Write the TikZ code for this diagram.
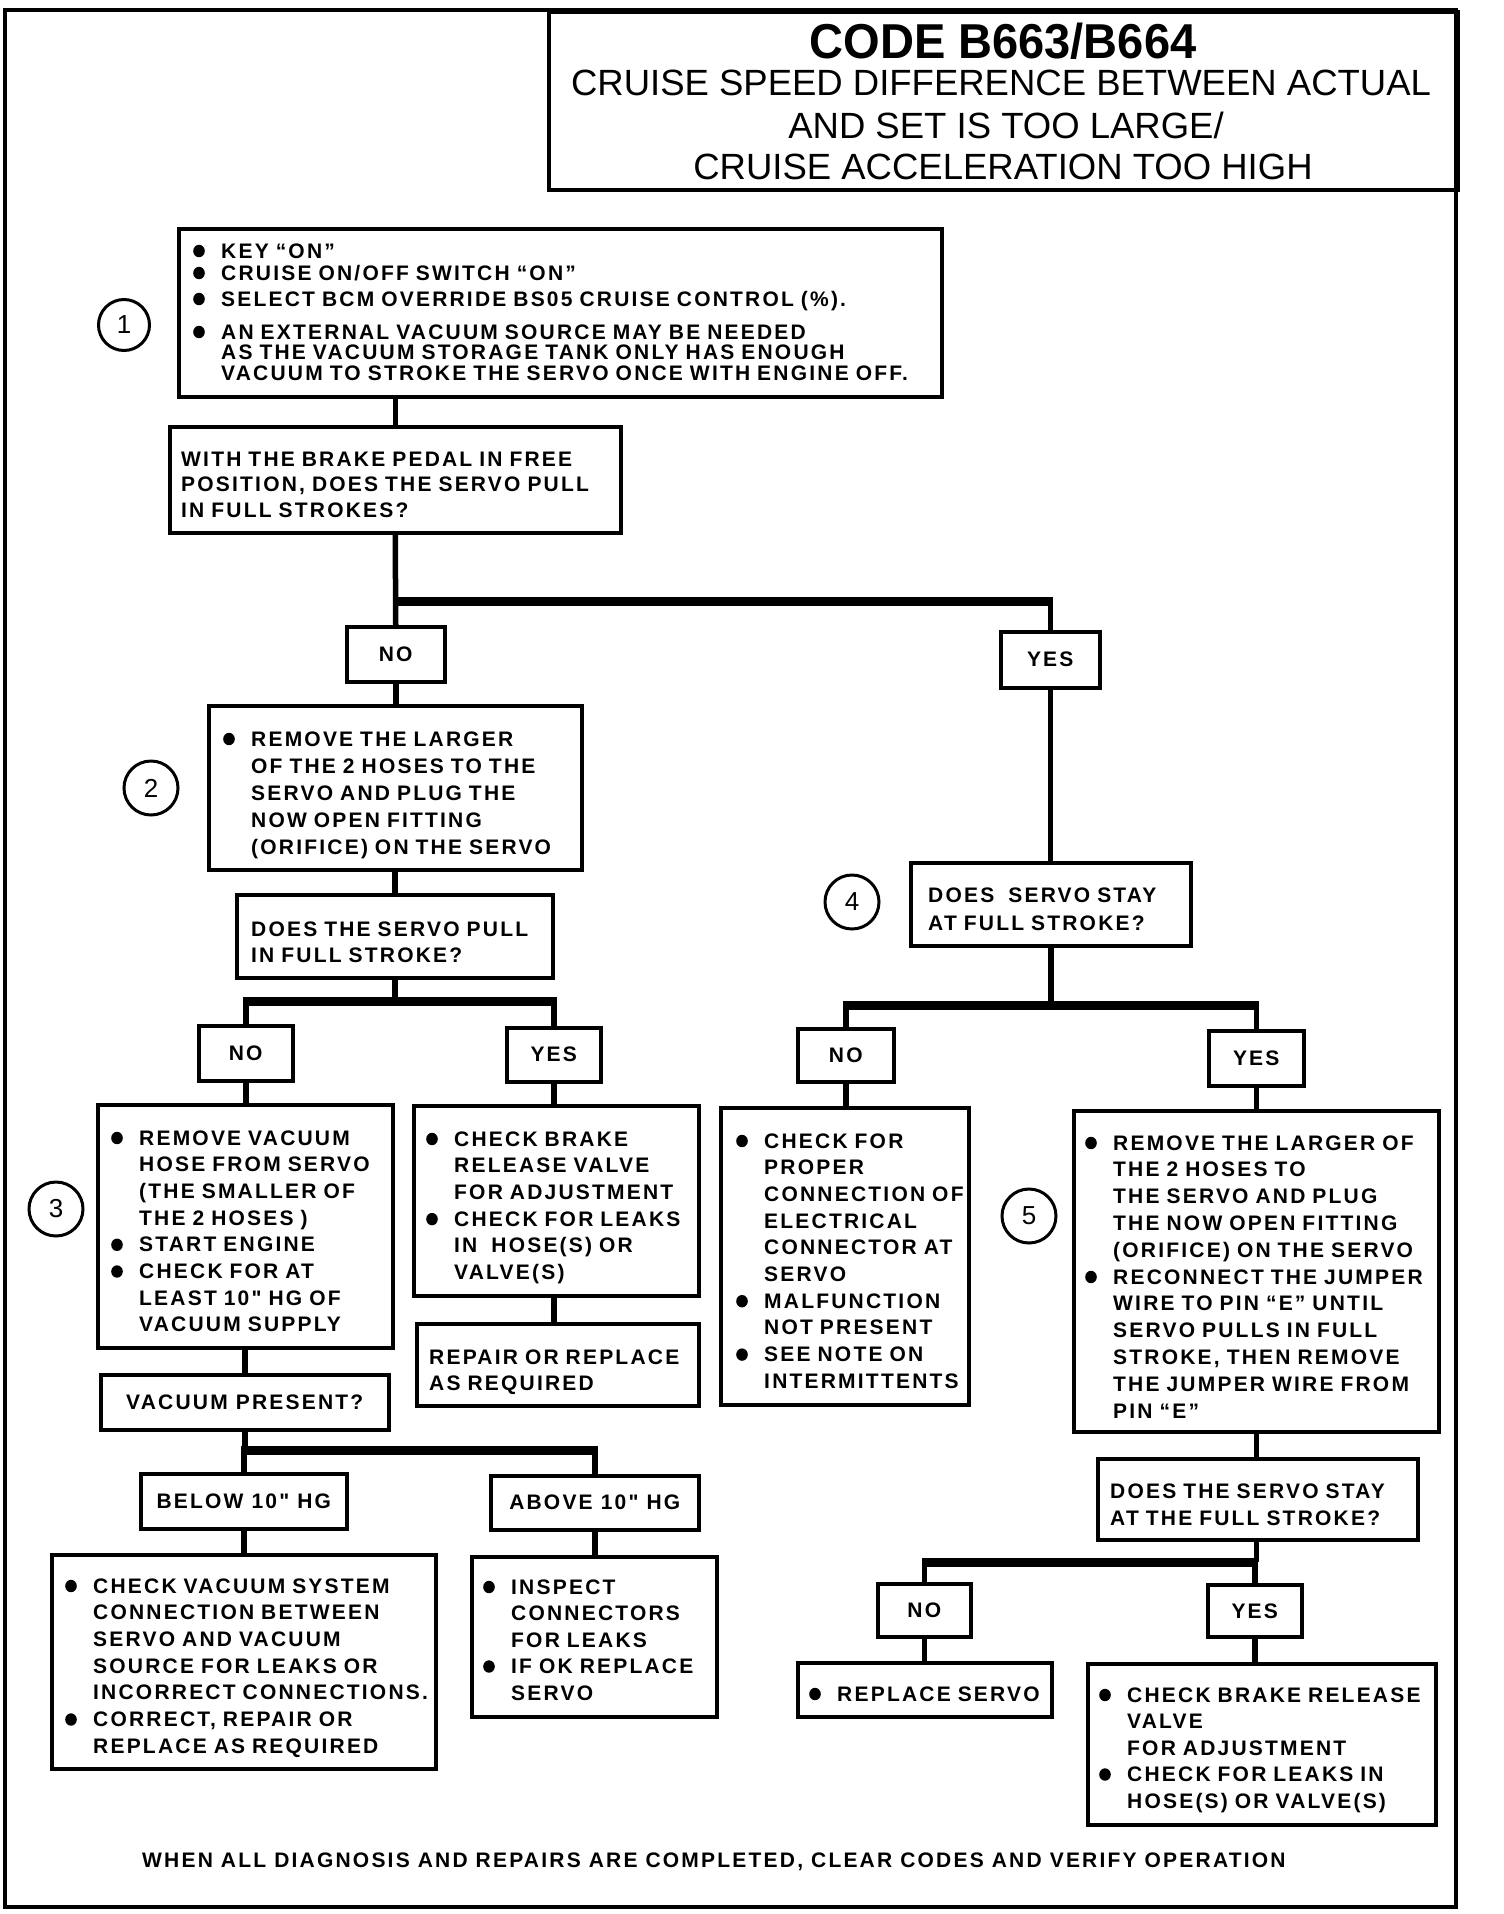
\documentclass[tikz,border=0pt]{standalone}
\usepackage{fontspec}
\setmainfont{Liberation Sans}
\newfontfamily\bodyfont[LetterSpace=10.5]{Liberation Sans}
\newfontfamily\codefont[FakeStretch=0.96]{Liberation Sans}
\newfontfamily\subfont{Liberation Sans}
\newcommand\bul{\makebox[28pt][l]{\tikz[baseline=0pt]\fill (6pt,7pt) ellipse[x radius=5.8pt, y radius=6.2pt];}}
\newcommand\ind{\hspace*{28pt}}
\newcommand\mybox[5]{\node[box, minimum width=#4pt, minimum height=#5pt] (#1) at (#2,#3) {};}
\tikzset{
  box/.style={draw, line width=3.5pt, anchor=north west, inner sep=0pt},
  txt/.style={anchor=base west, inner sep=0pt, text width=760pt, align=left,
    font=\bodyfont\bfseries\fontsize{21}{26.7}\selectfont},
  lbl/.style={inner sep=0pt, font=\bodyfont\bfseries\fontsize{21}{25}\selectfont},
  conn/.style={line width=5.5pt},
  bar/.style={line width=9pt, shorten <=-2.75pt, shorten >=-2.75pt},
  num/.style={draw, circle, line width=3pt, minimum size=54pt, inner sep=0pt,
    font=\subfont\fontsize{26}{26}\selectfont},
}
\begin{document}
\begin{tikzpicture}[x=1pt,y=-1pt]
\useasboundingbox (0,0) rectangle (1504,1914);
% frame
\draw[line width=4pt] (5,10) rectangle (1456,1907);
% title
\mybox{title}{547}{10}{909}{178}
\node[anchor=base, inner sep=0pt, font=\codefont\bfseries\fontsize{49}{49}\selectfont] (tt1) at (1003,58) {CODE B663/B664};
\node[anchor=base, inner sep=0pt, font=\subfont\fontsize{36.5}{36.5}\selectfont] (tt2) at (1001,95) {CRUISE SPEED DIFFERENCE BETWEEN ACTUAL};
\node[anchor=base, inner sep=0pt, font=\subfont\fontsize{36.5}{36.5}\selectfont] (tt3) at (1006,138) {AND SET IS TOO LARGE/};
\node[anchor=base, inner sep=0pt, font=\subfont\fontsize{36.5}{36.5}\selectfont] (tt4) at (1003,179) {CRUISE ACCELERATION TOO HIGH};

% boxes
\mybox{b1}{177}{227}{763}{168}
\mybox{q1}{168}{425}{451}{106}
\mybox{no1}{345}{625}{98}{55}
\mybox{yes1}{999}{630}{99}{56}
\mybox{b2}{207}{704}{373}{164}
\mybox{q2}{235}{893}{316}{83}
\mybox{no2}{197}{1024}{94}{55}
\mybox{yes2}{505}{1026}{94}{54}
\mybox{b3}{96}{1103}{295}{243}
\mybox{b3y}{412}{1104}{285}{190}
\mybox{rep}{415}{1322}{282}{82}
\mybox{vp}{99}{1373}{288}{55}
\mybox{below}{139}{1472}{206}{55}
\mybox{above}{489}{1474}{208}{54}
\mybox{bl}{50}{1553}{384}{214}
\mybox{insp}{470}{1555}{245}{160}
\mybox{q4}{909}{861}{280}{83}
\mybox{no3}{796}{1027}{96}{53}
\mybox{yes3}{1207}{1029}{95}{55}
\mybox{b4n}{719}{1106}{248}{297}
\mybox{b5}{1072}{1109}{365}{321}
\mybox{q5}{1096}{1457}{320}{81}
\mybox{no4}{876}{1582}{93}{53}
\mybox{yes4}{1206}{1583}{94}{52}
\mybox{rs}{796}{1661}{254}{54}
\mybox{last}{1086}{1662}{348}{161}

% step numbers
\node[num, minimum size=51pt] (c1) at (124,325) {1};
\node[num] (c2) at (151,788) {2};
\node[num] (c3) at (56,1209) {3};
\node[num] (c4) at (852,902) {4};
\node[num] (c5) at (1029,1216) {5};

% texts
\node[txt, font=\bodyfont\bfseries\fontsize{21}{20.5}\selectfont] (t1) at (193,258) {\bul KEY “ON”\\[1.5pt]
\bul CRUISE ON/OFF SWITCH “ON”\\[5.5pt]
\bul SELECT BCM OVERRIDE BS05 CRUISE CONTROL (\%).\\[12.5pt]
\bul AN EXTERNAL VACUUM SOURCE MAY BE NEEDED\\
\ind AS THE VACUUM STORAGE TANK ONLY HAS ENOUGH\\
\ind VACUUM TO STROKE THE SERVO ONCE WITH ENGINE OFF.};
\node[txt, font=\bodyfont\bfseries\fontsize{21}{25.5}\selectfont] (tq1) at (181,466) {WITH THE BRAKE PEDAL IN FREE\\POSITION, DOES THE SERVO PULL\\IN FULL STROKES?};
\node[txt, font=\bodyfont\bfseries\fontsize{21}{27}\selectfont] (t2) at (223,746) {\bul REMOVE THE LARGER\\\ind OF THE 2 HOSES TO THE\\\ind SERVO AND PLUG THE\\\ind NOW OPEN FITTING\\\ind (ORIFICE) ON THE SERVO};
\node[txt, font=\bodyfont\bfseries\fontsize{21}{26}\selectfont] (tq2) at (251,936) {DOES THE SERVO PULL\\IN FULL STROKE?};
\node[txt] (t3) at (111,1145) {\bul REMOVE VACUUM\\\ind HOSE FROM SERVO\\\ind (THE SMALLER OF\\\ind THE 2 HOSES )\\\bul START ENGINE\\\bul CHECK FOR AT\\\ind LEAST 10" HG OF\\\ind VACUUM SUPPLY};
\node[txt] (t3y) at (426,1146) {\bul CHECK BRAKE\\\ind RELEASE VALVE\\\ind FOR ADJUSTMENT\\\bul CHECK FOR LEAKS\\\ind IN~ HOSE(S) OR\\\ind VALVE(S)};
\node[txt, font=\bodyfont\bfseries\fontsize{21}{26}\selectfont] (trep) at (429,1364) {REPAIR OR REPLACE\\AS REQUIRED};
\node[lbl] (tvp) at (vp.center) {VACUUM PRESENT?};
\node[lbl] (tbelow) at (below.center) {BELOW 10" HG};
\node[lbl] (tabove) at (above.center) {ABOVE 10" HG};
\node[txt] (tbl) at (65,1593) {\bul CHECK VACUUM SYSTEM\\\ind CONNECTION BETWEEN\\\ind SERVO AND VACUUM\\\ind SOURCE FOR LEAKS OR\\\ind INCORRECT CONNECTIONS.\\\bul CORRECT, REPAIR OR\\\ind REPLACE AS REQUIRED};
\node[txt, font=\bodyfont\bfseries\fontsize{21}{26.5}\selectfont] (tinsp) at (483,1594) {\bul INSPECT\\\ind CONNECTORS\\\ind FOR LEAKS\\\bul IF OK REPLACE\\\ind SERVO};
\node[txt, font=\bodyfont\bfseries\fontsize{21}{28}\selectfont] (tq4) at (928,902) {DOES~ SERVO STAY\\AT FULL STROKE?};
\node[txt] (t4n) at (736,1148) {\bul CHECK FOR\\\ind PROPER\\\ind CONNECTION OF\\\ind ELECTRICAL\\\ind CONNECTOR AT\\\ind SERVO\\\bul MALFUNCTION\\\ind NOT PRESENT\\\bul SEE NOTE ON\\\ind INTERMITTENTS};
\node[txt, font=\bodyfont\bfseries\fontsize{21}{26.8}\selectfont] (t5) at (1085,1150) {\bul REMOVE THE LARGER OF\\\ind THE 2 HOSES TO\\\ind THE SERVO AND PLUG\\\ind THE NOW OPEN FITTING\\\ind (ORIFICE) ON THE SERVO\\\bul RECONNECT THE JUMPER\\\ind WIRE TO PIN “E” UNTIL\\\ind SERVO PULLS IN FULL\\\ind STROKE, THEN REMOVE\\\ind THE JUMPER WIRE FROM\\\ind PIN “E”};
\node[txt, font=\bodyfont\bfseries\fontsize{21}{27}\selectfont] (tq5) at (1110,1498) {DOES THE SERVO STAY\\AT THE FULL STROKE?};
\node[txt] (trs) at (809,1701) {\bul REPLACE SERVO};
\node[txt, font=\bodyfont\bfseries\fontsize{21}{26.5}\selectfont] (tlast) at (1099,1702) {\bul CHECK BRAKE RELEASE\\\ind VALVE\\\ind FOR ADJUSTMENT\\\bul CHECK FOR LEAKS IN\\\ind HOSE(S) OR VALVE(S)};

% yes/no labels
\node[lbl] (lno1) at (no1.center) {NO};
\node[lbl] (lyes1) at (yes1.center) {YES};
\node[lbl] (lno2) at (no2.center) {NO};
\node[lbl] (lyes2) at (yes2.center) {YES};
\node[lbl] (lno3) at (no3.center) {NO};
\node[lbl] (lyes3) at (yes3.center) {YES};
\node[lbl] (lno4) at (no4.center) {NO};
\node[lbl] (lyes4) at (yes4.center) {YES};

% footer
\node[anchor=base west, inner sep=0pt, font=\bodyfont\bfseries\fontsize{21}{21}\selectfont] (foot) at (142,1867) {WHEN ALL DIAGNOSIS AND REPAIRS ARE COMPLETED, CLEAR CODES AND VERIFY OPERATION};

% connectors
\coordinate (j1) at (398,601);
\coordinate (j2) at (0,1001);
\coordinate (j3) at (0,1005);
\coordinate (j4) at (0,1450);
\coordinate (j5) at (0,1562);
\draw[conn] (b1.south -| q1.north) -- (q1.north);
\draw[conn] (q1.south) -- (no1.north);
\draw[bar] (q1.south |- j1) -- (yes1.north |- j1);
\draw[conn] (yes1.north |- j1) -- (yes1.north);
\draw[conn] (no1.south) -- (no1.south |- b2.north);
\draw[conn] (b2.south -| q2.north) -- (q2.north);
\draw[conn] (q2.south) -- (q2.south |- j2);
\draw[bar] (no2.north |- j2) -- (yes2.north |- j2);
\draw[conn] (no2.north |- j2) -- (no2.north);
\draw[conn] (yes2.north |- j2) -- (yes2.north);
\draw[conn] (no2.south) -- (no2.south |- b3.north);
\draw[conn] (yes2.south) -- (yes2.south |- b3y.north);
\draw[conn] (yes2.south |- b3y.south) -- (yes2.south |- rep.north);
\draw[conn] (vp.north) -- (vp.north |- b3.south);
\draw[conn] (vp.south) -- (vp.south |- j4);
\draw[bar] (below.north |- j4) -- (above.north |- j4);
\draw[conn] (below.north |- j4) -- (below.north);
\draw[conn] (above.north |- j4) -- (above.north);
\draw[conn] (below.south) -- (below.south |- bl.north);
\draw[conn] (above.south) -- (above.south |- insp.north);
\draw[conn] (yes1.south) -- (yes1.south |- q4.north);
\draw[conn] (q4.south) -- (q4.south |- j3);
\draw[bar] (no3.north |- j3) -- (yes3.north |- j3);
\draw[conn] (no3.north |- j3) -- (no3.north);
\draw[conn] (yes3.north |- j3) -- (yes3.north);
\draw[conn] (no3.south) -- (no3.south |- b4n.north);
\draw[conn] (yes3.south) -- (yes3.south |- b5.north);
\draw[conn] (yes3.south |- b5.south) -- (yes3.south |- q5.north);
\draw[conn] (yes3.south |- q5.south) -- (yes3.south |- j5);
\draw[bar] (no4.north |- j5) -- (yes4.north |- j5);
\draw[conn] (no4.north |- j5) -- (no4.north);
\draw[conn] (yes4.north |- j5) -- (yes4.north);
\draw[conn] (no4.south) -- (no4.south |- rs.north);
\draw[conn] (yes4.south) -- (yes4.south |- last.north);
\end{tikzpicture}
\end{document}
